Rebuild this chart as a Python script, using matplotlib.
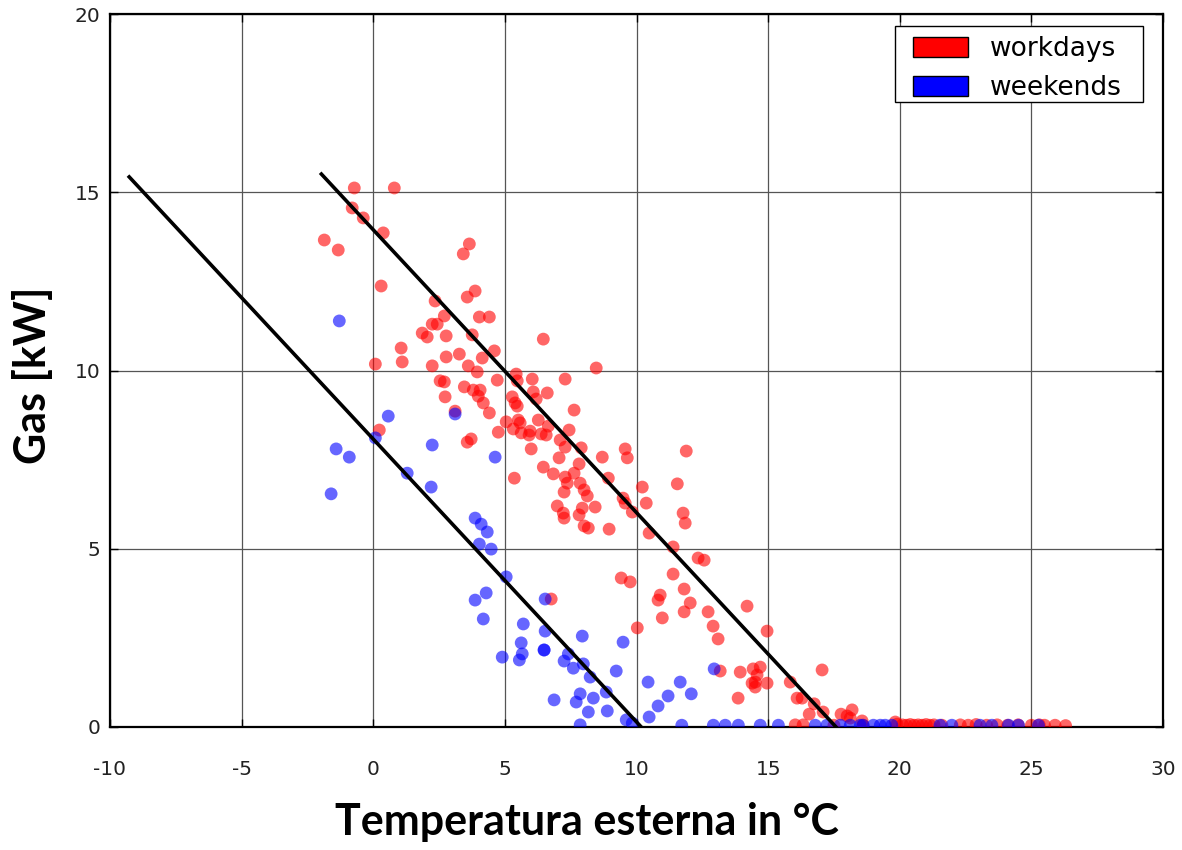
import matplotlib
matplotlib.use("Agg")
import matplotlib.pyplot as plt
import matplotlib.patches as mpatches

plt.rcParams['axes.unicode_minus'] = False

# workdays (red) - outside temperature [C] vs gas [kW]
work_temp = [-0.72, 0.80, -0.80, -0.38, 0.38, -1.86, -1.33, 3.65, 3.42, 0.30,
             3.87, 3.57, 2.35, 2.70, 4.03, 4.41, 2.24, 2.43, 1.86, 2.05,
             2.77, 3.76, 6.46, 1.06, 1.10, 0.08, 2.24, 2.77, 3.27, 3.61,
             4.14, 4.60, 3.95, 4.71, 5.43, 6.04, 5.47, 6.08, 6.61, 5.28,
             2.54, 2.70, 3.46, 3.80, 4.06, 2.73, 3.99, 7.29, 8.47, 4.18,
             4.41, 5.39, 5.47, 6.19, 7.63, 5.05, 5.51, 5.58, 5.32, 5.62,
             5.96, 5.92, 6.27, 6.38, 6.57, 6.65, 7.44, 4.75, 3.57, 3.72,
             6.00, 7.10, 7.29, 7.90, 7.06, 7.82, 8.70, 9.57, 9.65, 11.89,
             5.36, 6.46, 6.84, 7.29, 7.37, 7.63, 7.86, 8.01, 8.13, 7.25,
             8.93, 10.22, 11.55, 9.49, 9.57, 10.37, 9.84, 6.99, 7.22, 7.25,
             7.94, 8.43, 7.82, 8.01, 8.17, 8.96, 10.48, 11.77, 11.85, 11.39,
             12.34, 12.57, 9.42, 9.76, 11.39, 11.81, 10.90, 10.82, 12.04, 11.81,
             10.98, 10.03, 6.76, 12.72, 12.91, 13.10, 14.20, 14.96, 13.18, 13.94,
             14.43, 14.70, 14.58, 14.51, 14.39, 14.51, 14.96, 13.86, 15.84, 17.05,
             16.10, 16.29, 16.75, 16.56, 17.09, 17.77, 18.00, 18.19, 18.12, 18.57,
             19.83, 0.23, 3.11,
             16.03, 16.33, 17.50, 18.60, 19.90, 20.10, 20.25, 20.40, 20.55, 20.70,
             20.85, 21.00, 21.15, 21.30, 21.60, 22.30, 22.60, 22.90, 23.30, 23.70,
             24.10, 24.50, 25.00, 25.30, 25.50, 25.90, 26.30]
work_gas = [15.12, 15.12, 14.56, 14.28, 13.86, 13.66, 13.38, 13.55, 13.27, 12.37,
            12.23, 12.06, 11.95, 11.53, 11.50, 11.50, 11.30, 11.30, 11.05, 10.94,
            10.97, 11.00, 10.88, 10.63, 10.24, 10.18, 10.13, 10.38, 10.46, 10.13,
            10.35, 10.55, 9.96, 9.73, 9.90, 9.76, 9.71, 9.40, 9.37, 9.26,
            9.71, 9.68, 9.54, 9.45, 9.45, 9.26, 9.28, 9.76, 10.07, 9.09,
            8.81, 9.09, 9.00, 9.20, 8.89, 8.56, 8.61, 8.53, 8.36, 8.25,
            8.30, 8.19, 8.61, 8.22, 8.19, 8.44, 8.33, 8.27, 7.99, 8.08,
            7.80, 8.05, 7.85, 7.83, 7.55, 7.38, 7.57, 7.80, 7.55, 7.74,
            6.98, 7.29, 7.10, 7.01, 6.84, 7.12, 6.84, 6.65, 6.48, 6.59,
            6.98, 6.73, 6.82, 6.42, 6.28, 6.28, 6.03, 6.20, 6.00, 5.86,
            6.14, 6.17, 5.95, 5.64, 5.58, 5.55, 5.44, 6.00, 5.72, 5.05,
            4.74, 4.68, 4.18, 4.07, 4.29, 3.87, 3.70, 3.56, 3.48, 3.23,
            3.06, 2.78, 3.59, 3.23, 2.83, 2.47, 3.39, 2.69, 1.57, 1.54,
            1.63, 1.68, 1.46, 1.26, 1.23, 1.12, 1.23, 0.81, 1.26, 1.60,
            0.81, 0.81, 0.65, 0.36, 0.42, 0.36, 0.31, 0.48, 0.25, 0.17,
            0.14, 8.33, 8.86,
            0.06, 0.06, 0.05, 0.05, 0.08, 0.06, 0.05, 0.07, 0.05, 0.06,
            0.05, 0.07, 0.05, 0.06, 0.05, 0.06, 0.05, 0.07, 0.05, 0.06,
            0.05, 0.06, 0.05, 0.06, 0.05, 0.05, 0.04]

# weekends (blue)
wend_temp = [-1.29, 0.57, 0.08, -1.41, -0.91, -1.60, 1.29, 2.20, 2.24, 3.11,
             4.63, 3.87, 4.10, 4.33, 4.03, 4.48, 5.05, 4.29, 3.87, 4.18,
             6.53, 5.70, 6.53, 5.62, 5.66, 5.55, 6.49, 6.49, 4.90, 7.94,
             7.25, 7.41, 7.60, 7.98, 8.24, 9.49, 9.23, 6.87, 7.71, 7.86,
             8.36, 8.17, 8.89, 8.85, 9.61, 9.84, 10.44, 11.66, 11.20, 12.08,
             10.82, 10.48, 7.86, 12.95,
             11.72, 12.92, 13.37, 13.87, 14.70, 15.39, 16.79, 17.23, 17.74, 18.12,
             18.50, 18.61, 19.00, 19.26, 19.45, 19.70, 21.53, 21.98, 23.05, 23.50,
             24.13, 24.51, 25.27]
wend_gas = [11.39, 8.72, 8.11, 7.80, 7.57, 6.54, 7.12, 6.73, 7.91, 8.78,
            7.57, 5.86, 5.69, 5.47, 5.13, 4.99, 4.21, 3.76, 3.56, 3.03,
            3.59, 2.89, 2.69, 2.36, 2.05, 1.88, 2.16, 2.16, 1.96, 2.55,
            1.85, 2.05, 1.65, 1.77, 1.40, 2.38, 1.57, 0.76, 0.70, 0.93,
            0.81, 0.42, 0.45, 0.98, 0.20, 0.11, 1.26, 1.26, 0.87, 0.93,
            0.59, 0.28, 0.06, 1.63,
            0.05, 0.05, 0.05, 0.05, 0.05, 0.05, 0.05, 0.05, 0.05, 0.05,
            0.05, 0.05, 0.05, 0.05, 0.05, 0.05, 0.05, 0.05, 0.05, 0.05,
            0.05, 0.05, 0.05]

# the two hand-drawn regression lines (endpoints)
line_work_x = [-1.97, 17.58]
line_work_y = [15.51, 0.0]
line_wend_x = [-9.27, 10.18]
line_wend_y = [15.43, 0.0]

xticks = [-10, -5, 0, 5, 10, 15, 20, 25, 30]
yticks = [0, 5, 10, 15, 20]

W, H = 1182, 850
fig = plt.figure(figsize=(W / 100, H / 100), dpi=100)
ax = fig.add_axes([110/W, 1 - 727/H, 1053/W, 713/H])

ax.grid(True, color='#555555', linewidth=0.9, linestyle='-')
ax.set_axisbelow(True)

ax.scatter(work_temp, work_gas, s=85, c='red', alpha=0.6, edgecolors='none', zorder=3)
ax.scatter(wend_temp, wend_gas, s=85, c='blue', alpha=0.6, edgecolors='none', zorder=3)

ax.plot(line_work_x, line_work_y, color='black', linewidth=2.6, zorder=4)
ax.plot(line_wend_x, line_wend_y, color='black', linewidth=2.6, zorder=4)

ax.set_xlim(-10, 30)
ax.set_ylim(0, 20)
ax.set_xticks(xticks)
ax.set_yticks(yticks)
ax.tick_params(axis='both', direction='in', length=6, width=1, colors='black',
               labelcolor='#222222', labelsize=14.5, top=True, right=True)
ax.tick_params(axis='x', pad=24)
ax.tick_params(axis='y', pad=7)
for s in ax.spines.values():
    s.set_linewidth(1.6)
    s.set_color('black')

# legend: frame drawn separately so the padding matches the original
frame = mpatches.Rectangle((895/W, 1 - 102/H), 248/W, 76/H, transform=fig.transFigure,
                           facecolor='white', edgecolor='black', linewidth=1.0,
                           zorder=5, clip_on=False)
ax.add_patch(frame)
handles = [mpatches.Patch(facecolor='red', edgecolor='black', label='workdays'),
           mpatches.Patch(facecolor='blue', edgecolor='black', label='weekends')]
leg = ax.legend(handles=handles, loc='upper left', bbox_to_anchor=(913/W, 1 - 36/H),
                bbox_transform=fig.transFigure, borderaxespad=0, borderpad=0,
                fontsize=19, frameon=False, labelspacing=0.5,
                handlelength=2.08, handleheight=0.78, handletextpad=0.83)
leg.set_zorder(6)

fig.text(587/W, 1 - 822/H, 'Temperatura esterna in °C', ha='center', va='center',
         fontsize=31, fontweight='bold', family=['Lato', 'DejaVu Sans'])
fig.text(33/W, 1 - 375/H, 'Gas [kW]', ha='center', va='center', rotation=90,
         fontsize=31, fontweight='bold', family=['Lato', 'DejaVu Sans'])

fig.savefig('out.png', dpi=100)
